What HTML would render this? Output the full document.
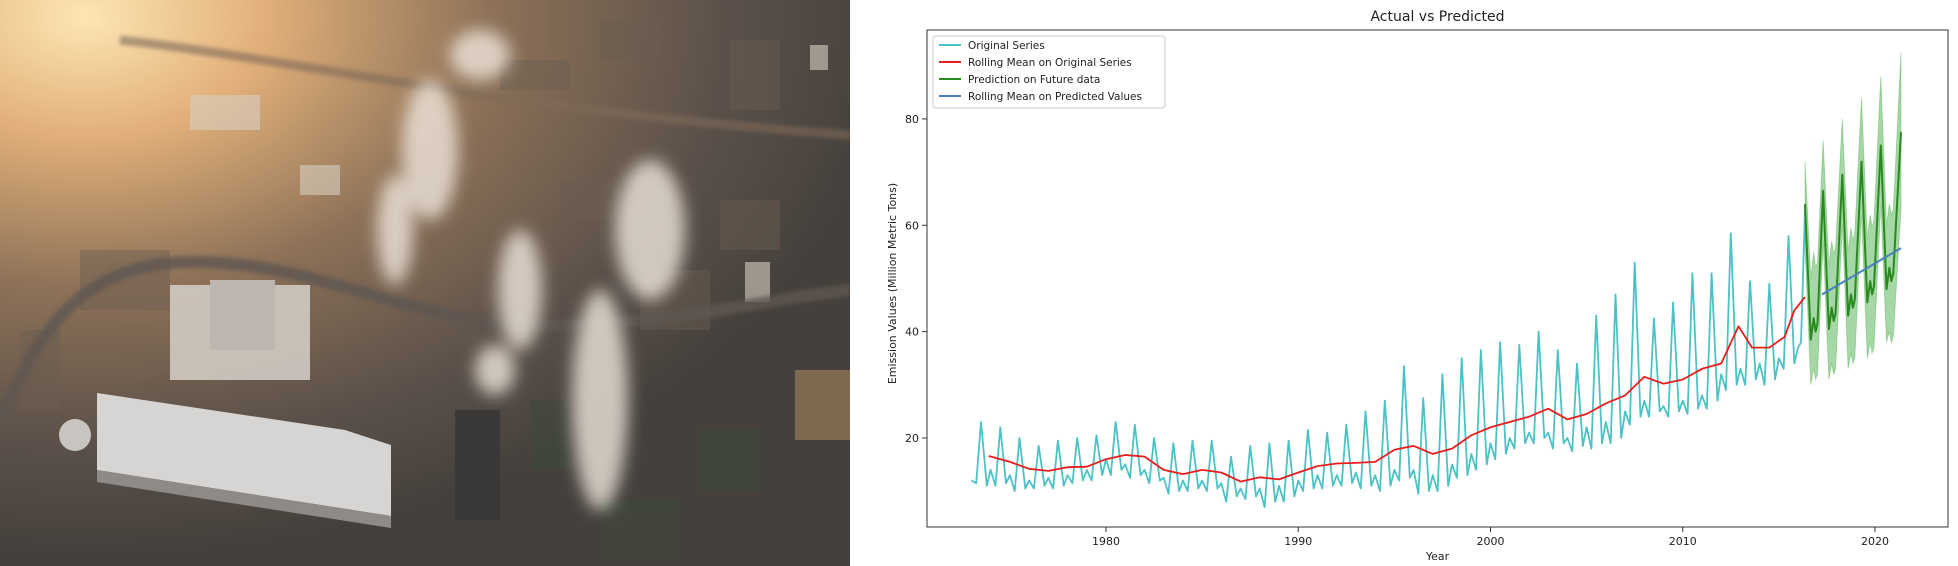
<!DOCTYPE html>
<html><head><meta charset="utf-8"><style>
html,body{margin:0;padding:0;background:#fff;}
body{width:1958px;height:566px;position:relative;overflow:hidden;font-family:"DejaVu Sans","Liberation Sans",sans-serif;}
svg{position:absolute;left:0;top:0;}
</style></head><body>
<svg width="850" height="566" viewBox="0 0 850 566" style="left:0;top:0">
<defs>
<radialGradient id="sun" cx="0.1" cy="0.03" r="0.95">
<stop offset="0" stop-color="#fde6b4"/><stop offset="0.22" stop-color="#e2b07a"/><stop offset="0.5" stop-color="#8e7258"/><stop offset="0.8" stop-color="#5a5049"/><stop offset="1" stop-color="#45403c"/>
</radialGradient>
<filter id="blur" x="-50%" y="-50%" width="200%" height="200%"><feGaussianBlur stdDeviation="8"/></filter>
<filter id="blur2"><feGaussianBlur stdDeviation="2"/></filter>
</defs>
<rect width="850" height="566" fill="url(#sun)"/>
<g fill="#6b5e52" opacity="0.45">
<rect x="600" y="20" width="60" height="40"/><rect x="730" y="40" width="50" height="70"/><rect x="500" y="60" width="70" height="30"/>
<rect x="560" y="180" width="60" height="40"/><rect x="640" y="270" width="70" height="60"/><rect x="720" y="200" width="60" height="50"/>
<rect x="80" y="250" width="90" height="60"/><rect x="20" y="330" width="40" height="80"/>
</g>
<g fill="#d8cfc2" opacity="0.6">
<rect x="190" y="95" width="70" height="35"/><rect x="300" y="165" width="40" height="30"/><rect x="745" y="262" width="25" height="40"/><rect x="810" y="45" width="18" height="25"/>
</g>
<path d="M0 420 C40 330 80 260 200 262 C330 264 420 330 560 325 S760 300 850 290" stroke="#5f5751" stroke-width="12" fill="none" opacity="0.8" filter="url(#blur2)"/>
<path d="M120 40 C300 60 500 110 850 135" stroke="#7f6b58" stroke-width="9" fill="none" opacity="0.6" filter="url(#blur2)"/>
<rect x="170" y="285" width="140" height="95" fill="#cfc8c0" opacity="0.92"/>
<rect x="210" y="280" width="65" height="70" fill="#bdb6ae"/>
<polygon points="97,393 345,430 391,445 391,516 97,470" fill="#d6d5d3"/>
<polygon points="97,470 391,516 391,528 97,482" fill="#8d8a87"/>
<circle cx="75" cy="435" r="16" fill="#c8c4bf"/>
<rect x="455" y="410" width="45" height="110" fill="#3a3937"/>
<rect x="795" y="370" width="55" height="70" fill="#8c7356" opacity="0.8"/>
<g fill="#3d4a3a" opacity="0.5"><rect x="530" y="400" width="40" height="70"/><rect x="700" y="430" width="60" height="60"/><rect x="600" y="500" width="80" height="60"/></g>
<g fill="#efe6dc" filter="url(#blur)" opacity="0.8">
<ellipse cx="430" cy="150" rx="28" ry="70"/>
<ellipse cx="395" cy="230" rx="18" ry="55"/>
<ellipse cx="480" cy="55" rx="30" ry="25"/>
<ellipse cx="520" cy="290" rx="22" ry="60"/>
<ellipse cx="600" cy="400" rx="28" ry="110"/>
<ellipse cx="650" cy="230" rx="35" ry="70"/>
<ellipse cx="495" cy="370" rx="20" ry="25"/>
</g>
</svg>
<svg id="chart" width="1958" height="566" viewBox="0 0 1958 566"></svg>
<script>
const origYears=[1973,1974,1975,1976,1977,1978,1979,1980,1981,1982,1983,1984,1985,1986,1987,1988,1989,1990,1991,1992,1993,1994,1995,1996,1997,1998,1999,2000,2001,2002,2003,2004,2005,2006,2007,2008,2009,2010,2011,2012,2013,2014,2015];
const winterVals=[12,14,13,12,12.5,13,14,16,15,14,12.5,12,12,11.5,10.5,10.5,11,12,13,13,13.5,13,14,14,13,15,17,19,20,21,21,20,22,23,25,27,26,27,28,32,33,34,35];
const springLow=[11.5,11,10,10.5,10.5,11.5,12,13,12.5,11.5,9.5,10,10,8,8.5,7,8,10,10.5,11,10.5,10,12,9.5,10,12.5,14,16,18,19,18,17.5,18,19,22.5,24,24,24.5,25.5,29,30,30,33];
const summerPeak=[23,22,20,18.5,19.5,20,20.5,23,22.5,20,19,19.5,19.5,16.5,18.5,19,19.5,21.5,21,22.5,25,27,33.5,27.5,32,35,36.5,38,37.5,40,36.5,34,43,47,53,42.5,45.5,51,51,58.5,49.5,49,58];
const fallLow=[11,11.5,10.5,11,11,12,13,14,13,12,10,10.5,10.5,9,9,8,9,10.5,11,11.5,11,11,12.5,10,11,13,15,17,19,20,19,18.5,19,20,24,25,25,25.5,27,30,31,31,34];
const origTailTimes=[2016.0,2016.15,2016.36];
const origTailVals=[37,38,63];
const rollTimes=[1973.9,1975,1976,1977,1978,1979,1980,1981,1982,1983,1984,1985,1986,1987,1988,1989,1990,1991,1992,1993,1994,1995,1996,1997,1998,1999,2000,2001,2002,2003,2004,2005,2006,2007,2008,2009,2010,2011,2012,2012.9,2013.6,2014.5,2015.3,2015.8,2016.36];
const rollVals=[16.6,15.5,14.2,13.8,14.5,14.6,16,16.8,16.5,14,13.2,14,13.5,11.8,12.6,12.2,13.5,14.7,15.2,15.3,15.5,17.8,18.5,17,18,20.5,22,23,24,25.5,23.5,24.5,26.5,28,31.5,30.2,31,33,34,41,37,37,39,44,46.5];
const predTimes=[2016.36,2016.66,2016.81,2016.91,2017.01,2017.3,2017.6,2017.75,2017.85,2017.95,2018.3,2018.6,2018.75,2018.85,2018.95,2019.3,2019.6,2019.75,2019.85,2019.95,2020.3,2020.6,2020.75,2020.85,2020.95,2021.35];
const predVals=[64,38.5,42.5,40,41.5,66.5,40.5,44.5,42,43.5,69.5,43,47,44.5,46,72,45.5,49.5,47,48.5,75,48,52,49.5,51,77.5];
const upperVals=[72,50,55,52,53,76,52.5,57,54.5,56,80,55,59.5,57,58.5,84,57.5,62,59.5,61,88,60,64,62,63,92.5];
const lowerVals=[56,30,33,31,32,57,31,34,32,33,60,33,36,34,35,62,35,38,36,37,64,38,40,38,39,63];
const rollPredTimes=[2017.25,2021.35];
const rollPredVals=[47,55.7];
const xTicks=[1980,1990,2000,2010,2020];
const yTicks=[20,40,60,80];

const NS='http://www.w3.org/2000/svg';
const svg=document.getElementById('chart');
const L=927,R=1948,T=30,B=527;
const X=v=>1106+(v-1980)*19.225;
const Y=v=>544.3-v*5.317;
function mk(tag,attrs,parent){const e=document.createElementNS(NS,tag);for(const k in attrs)e.setAttribute(k,attrs[k]);(parent||svg).appendChild(e);return e;}
function txt(s,attrs){const e=mk('text',attrs);e.textContent=s;return e;}
function pts(ts,vs){return ts.map((t,i)=>X(t).toFixed(1)+','+Y(vs[i]).toFixed(1)).join(' ');}

const title=txt('Actual vs Predicted',{x:(L+R)/2,y:21,'text-anchor':'middle','font-size':14,fill:'#222'});



const band=mk('polygon',{points:pts(predTimes,upperVals)+' '+pts(predTimes.slice().reverse(),lowerVals.slice().reverse()),fill:'#2ca02c','fill-opacity':0.42,stroke:'#2ca02c','stroke-opacity':0.3});



const oT=[],oV=[];
origYears.forEach((y,i)=>{oT.push(y+0.0,y+0.25,y+0.5,y+0.8);oV.push(winterVals[i],springLow[i],summerPeak[i],fallLow[i]);});
origTailTimes.forEach((t,i)=>{oT.push(t);oV.push(origTailVals[i]);});
const orig=mk('polyline',{points:pts(oT,oV),fill:'none',stroke:'#4bc2c5','stroke-width':1.8,'stroke-linejoin':'round'});



const roll=mk('polyline',{points:pts(rollTimes,rollVals),fill:'none',stroke:'#ee1c1c','stroke-width':1.8,'stroke-linejoin':'round'});



const pred=mk('polyline',{points:pts(predTimes,predVals),fill:'none',stroke:'#2a8a1f','stroke-width':2,'stroke-linejoin':'round'});



const rp=mk('polyline',{points:pts(rollPredTimes,rollPredVals),fill:'none',stroke:'#4a80c0','stroke-width':2});



const frame=mk('rect',{x:L,y:T,width:R-L,height:B-T,fill:'none',stroke:'#333','stroke-width':1});



xTicks.forEach(t=>{
  const l=mk('line',{x1:X(t),x2:X(t),y1:B,y2:B+5,stroke:'#333'});
  
  
  const s=txt(String(t),{x:X(t),y:B+18,'text-anchor':'middle','font-size':11,fill:'#222'});
  
  
});
yTicks.forEach(t=>{
  const l=mk('line',{x1:L-5,x2:L,y1:Y(t),y2:Y(t),stroke:'#333'});
  
  
  const s=txt(String(t),{x:L-8,y:Y(t)+4,'text-anchor':'end','font-size':11,fill:'#222'});
  
  
});
const xl=txt('Year',{x:(L+R)/2,y:560,'text-anchor':'middle','font-size':11,fill:'#222'});


const yl=txt('Emission Values (Million Metric Tons)',{x:0,y:0,'text-anchor':'middle','font-size':11,fill:'#222',transform:'translate(896,'+((T+B)/2+5)+') rotate(-90)'});



const lg=mk('g',{});


mk('rect',{x:933,y:36,width:232,height:72,rx:3,fill:'#fff','fill-opacity':0.8,stroke:'#ccc'},lg);
const legNames=['Original Series','Rolling Mean on Original Series','Prediction on Future data','Rolling Mean on Predicted Values'];
const legColors=['#4bc2c5','#ee1c1c','#2a8a1f','#4a80c0'];
legNames.forEach((n,i)=>{
  const yy=45+i*17;
  const e=mk('g',{},lg);
  
  
  mk('line',{x1:939,x2:961,y1:yy,y2:yy,stroke:legColors[i],'stroke-width':2},e);
  const t=document.createElementNS(NS,'text');
  t.setAttribute('x',968);t.setAttribute('y',yy+4);t.setAttribute('font-size',10.5);t.setAttribute('fill','#222');
  t.textContent=n;e.appendChild(t);
});
</script>
</body></html>
